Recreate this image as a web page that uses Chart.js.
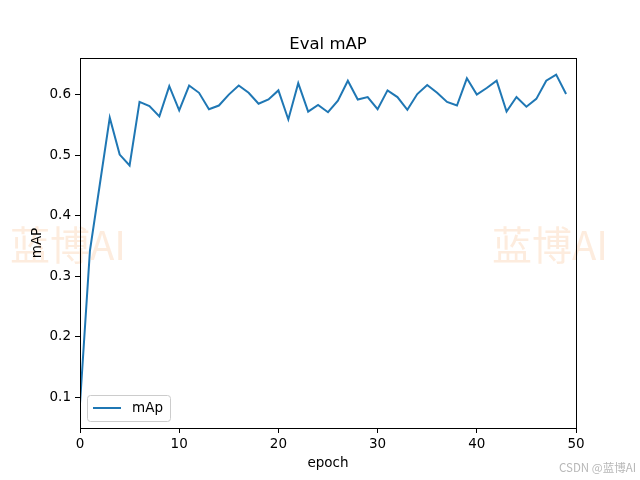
<!DOCTYPE html>
<html>
<head>
<meta charset="utf-8">
<script src="https://cdn.jsdelivr.net/npm/chart.js@4/dist/chart.umd.min.js"></script>
<style>
  html, body { margin: 0; padding: 0; background: #fff; }
  #wrap { width: 640px; height: 480px; position: relative; }
</style>
</head>
<body>
<div id="wrap"><canvas id="c" width="640" height="480"></canvas></div>
<script>
// values
const epochs = Array.from({ length: 50 }, (_, i) => i);
const mapValues = [
  0.090, 0.342, 0.452, 0.562, 0.501, 0.483, 0.588, 0.581, 0.564, 0.614,
  0.574, 0.615, 0.603, 0.576, 0.582, 0.600, 0.615, 0.603, 0.585, 0.592,
  0.607, 0.559, 0.619, 0.572, 0.583, 0.571, 0.590, 0.623, 0.592, 0.596,
  0.576, 0.607, 0.596, 0.575, 0.601, 0.616, 0.603, 0.588, 0.582, 0.627,
  0.600, 0.611, 0.623, 0.572, 0.596, 0.580, 0.593, 0.623, 0.633, 0.601
];
const xTicks = [0, 10, 20, 30, 40, 50];
const yTicks = [0.1, 0.2, 0.3, 0.4, 0.5, 0.6];
const seriesName = 'mAp';
const titleText = 'Eval mAP';
const xLabel = 'epoch';
const yLabel = 'mAP';
const watermark = '蓝博AI';
const credit = 'CSDN @蓝博AI';

const FONT = '"DejaVu Sans", sans-serif';
const BLUE = '#1f77b4';

// matplotlib-like frame, title, axis labels, legend and watermarks
const decor = {
  id: 'decor',
  beforeDraw(chart) {
    const ctx = chart.ctx;
    ctx.save();
    ctx.fillStyle = '#fff';
    ctx.fillRect(0, 0, chart.width, chart.height);
    ctx.restore();
  },
  afterDraw(chart) {
    const { ctx, chartArea: a } = chart;
    ctx.save();
    // watermarks
    ctx.font = '40px "Noto Sans CJK SC", sans-serif';
    ctx.fillStyle = 'rgba(250, 200, 160, 0.35)';
    ctx.textBaseline = 'middle';
    ctx.textAlign = 'left';
    ctx.fillText(watermark, 10, 245);
    ctx.fillText(watermark, 492, 245);

    // frame
    ctx.strokeStyle = '#000';
    ctx.lineWidth = 1;
    ctx.strokeRect(Math.round(a.left) + 0.5, Math.round(a.top) + 0.5,
      Math.round(a.right - a.left), Math.round(a.bottom - a.top));

    // title & axis labels
    ctx.fillStyle = '#000';
    ctx.textAlign = 'center';
    ctx.textBaseline = 'alphabetic';
    ctx.font = '16.5px ' + FONT;
    ctx.fillText(titleText, (a.left + a.right) / 2, 49);
    ctx.font = '13.5px ' + FONT;
    ctx.fillText(xLabel, (a.left + a.right) / 2, 467);
    ctx.save();
    ctx.translate(41, (a.top + a.bottom) / 2);
    ctx.rotate(-Math.PI / 2);
    ctx.fillText(yLabel, 0, 0);
    ctx.restore();

    // legend, lower left inside the axes
    const lx = 87, ly = 395, lw = 83, lh = 26;
    ctx.beginPath();
    ctx.roundRect(lx + 0.5, ly + 0.5, lw, lh, 3);
    ctx.fillStyle = 'rgba(255,255,255,0.8)';
    ctx.fill();
    ctx.strokeStyle = '#cccccc';
    ctx.stroke();
    ctx.beginPath();
    ctx.moveTo(lx + 6, ly + 13);
    ctx.lineTo(lx + 34, ly + 13);
    ctx.strokeStyle = BLUE;
    ctx.lineWidth = 2;
    ctx.stroke();
    ctx.fillStyle = '#000';
    ctx.textAlign = 'left';
    ctx.textBaseline = 'middle';
    ctx.font = '13.5px ' + FONT;
    ctx.fillText(seriesName, lx + 45, ly + 13);

    // credit
    ctx.font = '11.5px "Noto Sans CJK SC", sans-serif';
    ctx.fillStyle = '#b8b8b8';
    ctx.textAlign = 'right';
    ctx.fillText(credit, 636, 468);
    ctx.restore();
  }
};

new Chart(document.getElementById('c'), {
  type: 'line',
  data: {
    labels: epochs,
    datasets: [{
      label: seriesName,
      data: epochs.map((e, i) => ({ x: e, y: mapValues[i] })),
      borderColor: BLUE,
      borderWidth: 2,
      pointRadius: 0,
      tension: 0,
      fill: false
    }]
  },
  options: {
    responsive: false,
    animation: false,
    layout: { padding: { top: 58, right: 64, left: 0, bottom: 0 } },
    plugins: { legend: { display: false }, title: { display: false }, tooltip: { enabled: false } },
    scales: {
      x: {
        type: 'linear',
        min: 0, max: 50,
        afterBuildTicks: s => { s.ticks = xTicks.map(v => ({ value: v })); },
        afterFit: s => { s.height = 52; },
        grid: { drawOnChartArea: false, drawTicks: true, tickLength: 5, color: '#000' },
        border: { color: '#000' },
        ticks: { color: '#000', font: { family: FONT, size: 13.5 }, padding: 3, maxRotation: 0 }
      },
      y: {
        min: 0.0494, max: 0.6605,
        afterBuildTicks: s => { s.ticks = yTicks.map(v => ({ value: v })); },
        afterFit: s => { s.width = 80; },
        grid: { drawOnChartArea: false, drawTicks: true, tickLength: 5, color: '#000' },
        border: { color: '#000' },
        ticks: { color: '#000', font: { family: FONT, size: 13.5 }, padding: 4, callback: v => v.toFixed(1) }
      }
    }
  },
  plugins: [decor]
});
</script>
</body>
</html>
